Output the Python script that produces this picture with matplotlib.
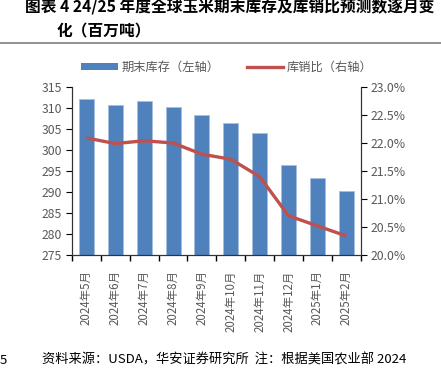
import matplotlib
matplotlib.use("Agg")
import matplotlib.pyplot as plt
from matplotlib.ticker import FuncFormatter, MultipleLocator, FixedLocator
from matplotlib.lines import Line2D
from matplotlib.patches import Patch

plt.rcParams['font.family'] = ['Noto Sans CJK SC', 'DejaVu Sans']

# data
months = ['2024年5月', '2024年6月', '2024年7月', '2024年8月', '2024年9月',
          '2024年10月', '2024年11月', '2024年12月', '2025年1月', '2025年2月']
stocks = [312.2, 310.7, 311.6, 310.2, 308.3, 306.4, 304.0, 296.4, 293.3, 290.2]
ratio = [22.09, 21.99, 22.04, 22.00, 21.80, 21.71, 21.40, 20.70, 20.52, 20.34]

title1 = '图表 4 24/25 年度全球玉米期末库存及库销比预测数逐月变'
title2 = '化（百万吨）'
source = '资料来源：USDA，华安证券研究所  注：根据美国农业部 2024'

blue = '#4F81BD'
red = '#C0504D'
grey = '#595959'

fig = plt.figure(figsize=(4.41, 3.70), dpi=100)

# header (the first line runs past the right edge, as in the source page)
fig.text(25 / 441, 1 - 7 / 370, title1, fontsize=11.3, fontweight='bold',
         va='center', ha='left')
fig.text(57 / 441, 1 - 31 / 370, title2, fontsize=11.3, fontweight='bold',
         va='center', ha='left')
fig.add_artist(Line2D([0, 1], [1 - 42.5 / 370] * 2, color='#7f7f7f', lw=1.2))

ax = fig.add_axes([72 / 441, 1 - 255 / 370, 288.7 / 441, 168 / 370])
x = list(range(len(months)))
ax.bar(x, stocks, width=0.52, color=blue, edgecolor='#a8c0e0', linewidth=0.6,
       zorder=2)
ax.set_ylim(275, 315)
ax.set_xlim(-0.5, len(months) - 0.5)
ax.yaxis.set_major_locator(MultipleLocator(5))
ax.set_xticks(x)
ax.set_xticklabels(months, rotation=90, fontsize=8.3, color=grey)
ax.xaxis.set_minor_locator(FixedLocator([i - 0.5 for i in range(len(months) + 1)]))
ax.tick_params(axis='x', which='major', length=0, pad=11)
ax.tick_params(axis='x', which='minor', length=4, direction='out', width=1)
ax.tick_params(axis='y', length=4, direction='out', labelsize=8.8,
               labelcolor=grey, pad=3)
ax.spines['top'].set_visible(False)
for s in ['left', 'bottom', 'right']:
    ax.spines[s].set_color('#333333')

ax2 = ax.twinx()
ax2.plot(x, ratio, color=red, lw=2.4, solid_capstyle='butt',
         solid_joinstyle='round', zorder=3)
ax2.set_ylim(20, 23)
ax2.yaxis.set_major_locator(MultipleLocator(0.5))
ax2.yaxis.set_major_formatter(FuncFormatter(lambda v, p: f'{v:.1f}%'))
ax2.tick_params(axis='y', length=4, direction='out', labelsize=8.8,
                labelcolor=grey, pad=3)
ax2.spines['top'].set_visible(False)
for s in ['left', 'bottom', 'right']:
    ax2.spines[s].set_color('#333333')

handles = [Patch(facecolor=blue, edgecolor='none'),
           Line2D([0], [0], color=red, lw=2.4)]
fig.legend(handles, ['期末库存（左轴）', '库销比（右轴）'], loc='center',
           bbox_to_anchor=(0.515, 1 - 67 / 370), ncol=2, frameon=False,
           fontsize=8.8, labelcolor=grey, handlelength=3, handleheight=0.5,
           columnspacing=2.2, handletextpad=0.3)

# footer
fig.text(0, 1 - 360 / 370, '5', fontsize=9.5, va='center', ha='left')
fig.text(42 / 441, 1 - 360 / 370, source, fontsize=9.5, va='center', ha='left')

fig.savefig('out.png', dpi=100)
